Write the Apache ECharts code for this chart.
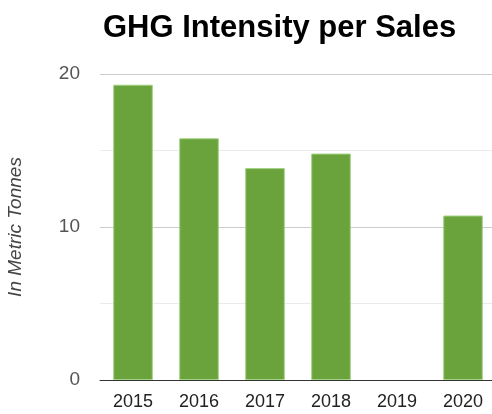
<!DOCTYPE html>
<html>
<head>
<meta charset="utf-8">
<script src="https://cdn.jsdelivr.net/npm/echarts@6/dist/echarts.min.js"></script>
<style>
  html, body { margin: 0; padding: 0; background: #fff; }
  #chart { width: 492px; height: 414px; }
</style>
</head>
<body>
<div id="chart"></div>
<script>
var years = ['2015', '2016', '2017', '2018', '2019', '2020'];
var intensity = [19.3, 15.8, 13.85, 14.8, null, 10.75];
var yTicks = [0, 10, 20];

var myChart = echarts.init(document.getElementById('chart'));
const option = {
  animation: false,
  title: {
    text: 'GHG Intensity per Sales',
    left: 98,
    top: 8,
    textStyle: {
      fontFamily: 'Liberation Sans, Arial',
      fontSize: 31,
      fontWeight: 'bold',
      color: '#000'
    }
  },
  grid: {
    left: 100,
    top: 74,
    width: 396,
    bottom: 34,
    outerBoundsMode: 'none'
  },
  xAxis: [{
    type: 'category',
    data: years,
    axisTick: { show: false },
    axisLine: { lineStyle: { color: '#333', width: 1 } },
    axisLabel: {
      fontFamily: 'Liberation Sans, Arial',
      fontSize: 18,
      color: '#222',
      margin: 13
    }
  }],
  yAxis: [{
    type: 'value',
    min: yTicks[0],
    max: yTicks[yTicks.length - 1],
    interval: 10,
    name: 'In Metric Tonnes',
    nameLocation: 'middle',
    nameGap: 75,
    nameTextStyle: {
      fontFamily: 'Liberation Sans, Arial',
      fontSize: 19,
      fontStyle: 'italic',
      color: '#444'
    },
    axisLabel: {
      fontFamily: 'Liberation Sans, Arial',
      fontSize: 19,
      color: '#555',
      margin: 20
    },
    splitLine: { lineStyle: { color: '#ccc' } },
    minorTick: { show: false, splitNumber: 2 },
    minorSplitLine: { show: true, lineStyle: { color: '#ebebeb' } }
  }],
  series: [{
    name: 'GHG Intensity',
    type: 'bar',
    data: intensity,
    barCategoryGap: '40%',
    itemStyle: {
      color: '#6aa23b',
      borderColor: '#a3d386',
      borderWidth: 1
    }
  }]
};

myChart.setOption(option);
window.addEventListener('resize', () => {
  myChart.resize();
});
</script>
</body>
</html>
